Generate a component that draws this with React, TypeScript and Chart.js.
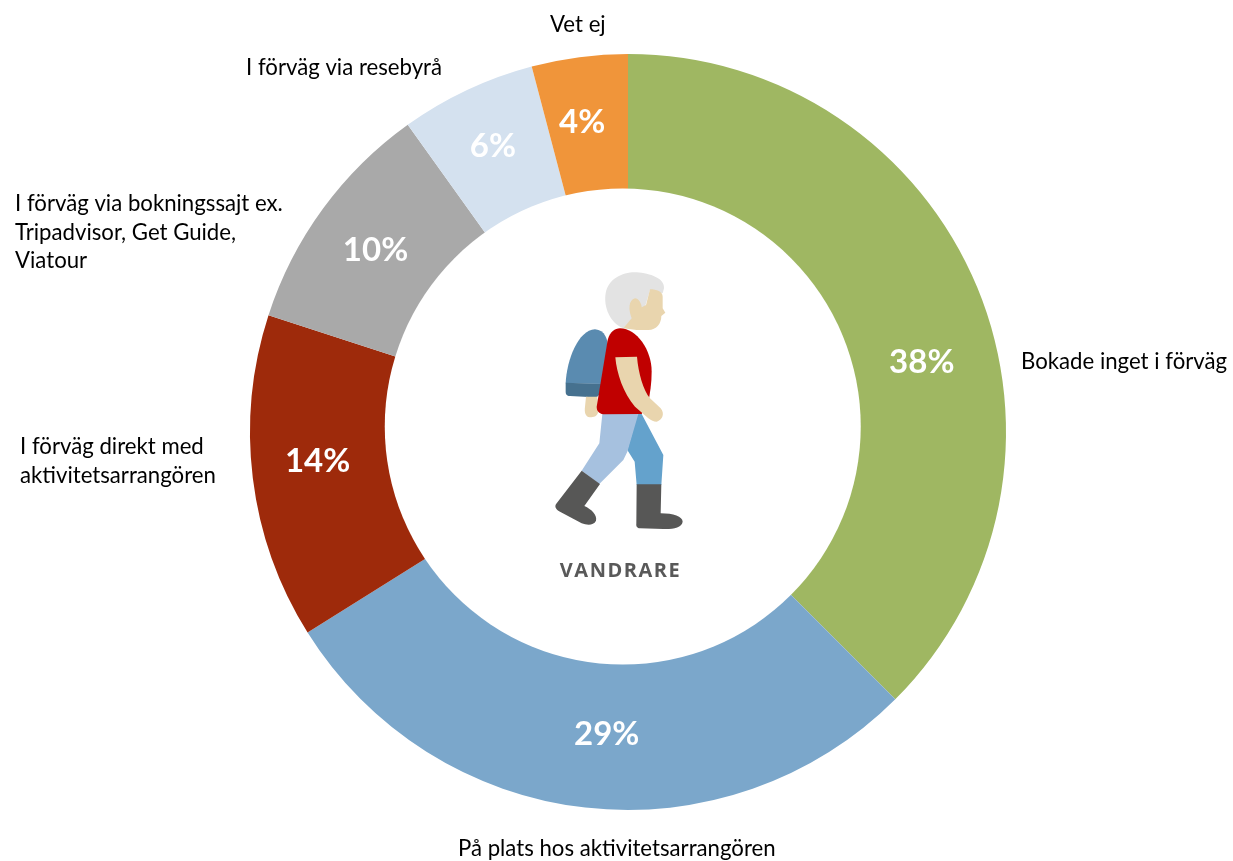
import React, { useEffect, useRef } from "react";
import { Chart, registerables } from "chart.js";

Chart.register(...registerables);

const categories = [
  "Bokade inget i förväg",
  "På plats hos aktivitetsarrangören",
  "I förväg direkt med aktivitetsarrangören",
  "I förväg via bokningssajt ex. Tripadvisor, Get Guide, Viatour",
  "I förväg via resebyrå",
  "Vet ej",
];
const shares = [37.5, 28.6, 13.9, 10.1, 5.8, 4.1];
const sliceColors = ["#9FB762", "#7BA7CB", "#9E2A0B", "#A9A9A9", "#D4E1EF", "#F0953A"];
const outsideLines = [
  ["Bokade inget i förväg"],
  ["På plats hos aktivitetsarrangören"],
  ["I förväg direkt med", "aktivitetsarrangören"],
  ["I förväg via bokningssajt ex.", "Tripadvisor, Get Guide,", "Viatour"],
  ["I förväg via resebyrå"],
  ["Vet ej"],
];
const centerTitle = "VANDRARE";

const outsideAnchors = [
  [1021, 362, 0],
  [458, 849, 0],
  [20, 447, 29],
  [15, 204, 28.5],
  [246, 68, 0],
  [550, 25, 0],
];
const valueOffsets = [
  [14.4, 45.9],
  [12.8, 2],
  [-10.3, -7.5],
  [-8.4, -3],
  [-6.3, -12],
  [-7, -9.6],
];

const LABEL_FONT = '22.2px Lato, "Open Sans", sans-serif';
const VALUE_FONT = 'bold 33px Lato, "Open Sans", sans-serif';
const TITLE_FONT = 'bold 20px "Open Sans", sans-serif';

const hikerParts: [string, string][] = [
  ["#5A8BB0", "M77 370C80 300 115 210 165 208C195 210 205 240 203 265L190 372Z"],
  ["#46718F", "M77 368L188 372L178 402C175 410 170 412 160 412L90 408C80 408 77 402 77 395Z"],
  ["#E9D5AE", "M138 410L172 410L175 450C175 470 160 472 150 472C135 470 133 455 135 440Z"],
  ["#64A2CC", "M292 462L305 462L370 585L364 675L290 675L284 605L262 570Z"],
  ["#A6C1DF", "M187 462L295 462L262 575L250 600L178 672L125 632L178 550Z"],
  ["#E3E3E3", "M250 205C210 190 190 140 197 100C205 55 250 35 290 37C330 40 375 55 372 85L368 100L330 90L315 140L300 150L275 185Z"],
  ["#E9D5AE", "M330 88C350 88 368 95 368 110L368 145L376 158L364 168C364 190 350 210 325 210L290 210L250 205L275 175C265 150 265 120 285 115C295 115 305 130 305 142L318 135Z"],
  ["#C00000", "M240 205C290 205 335 270 335 335C335 370 330 400 325 425L305 462L190 463C175 460 170 450 170 440L203 240C210 215 225 205 240 205Z"],
  ["#E9D5AE", "M226 292L291 290C295 340 310 390 330 415L362 445C375 460 368 480 350 485C340 485 335 482 325 475L285 440C250 400 230 340 226 292Z"],
  ["#575756", "M290 673L364 673L362 760C400 760 428 770 428 785C425 803 400 808 370 807L300 805C290 805 288 798 289 790Z"],
  ["#575756", "M125 632L180 672L133 738C155 748 172 765 168 782C160 798 140 795 125 790L60 755C45 748 43 738 50 730Z"],
];

const annotations = {
  id: "annotations",
  afterDraw(chart: any) {
    const ctx = chart.ctx as CanvasRenderingContext2D;
    const arcs = chart.getDatasetMeta(0).data;
    const { x: cx, y: cy } = arcs[0].getProps(["x", "y"], true);

    ctx.save();

    // The hole of the ring sits slightly up and left of the ring's own centre.
    ctx.fillStyle = "#FFFFFF";
    ctx.beginPath();
    ctx.arc(cx - 5.25, cy - 5.5, 238, 0, Math.PI * 2);
    ctx.fill();

    ctx.textBaseline = "middle";
    ctx.textAlign = "left";
    ctx.fillStyle = "#000000";
    ctx.font = LABEL_FONT;
    outsideLines.forEach((lines, i) => {
      const [x, y, step] = outsideAnchors[i];
      lines.forEach((line, j) => ctx.fillText(line, x, y + j * step));
    });

    ctx.textAlign = "center";
    ctx.fillStyle = "#FFFFFF";
    ctx.font = VALUE_FONT;
    arcs.forEach((arc: any, i: number) => {
      const p = arc.getCenterPoint();
      ctx.fillText(`${Math.round(shares[i])}%`, p.x + valueOffsets[i][0], p.y + valueOffsets[i][1]);
    });

    ctx.fillStyle = "#595959";
    ctx.font = TITLE_FONT;
    (ctx as any).letterSpacing = "1.5px";
    ctx.fillText(centerTitle, cx - 7.5, cy + 139);
    (ctx as any).letterSpacing = "0px";

    ctx.translate(cx - 88, cy - 172);
    ctx.scale(1 / 3, 1 / 3);
    hikerParts.forEach(([fill, d]) => {
      ctx.fillStyle = fill;
      ctx.fill(new Path2D(d));
    });
    ctx.restore();
  },
};

export default function App() {
  const ref = useRef<HTMLCanvasElement>(null);
  useEffect(() => {
    if (!ref.current) return;
    const chart = new Chart(ref.current, {
      type: "doughnut",
      data: {
        labels: categories,
        datasets: [{ data: shares, backgroundColor: sliceColors, borderWidth: 0 }],
      },
      options: {
        responsive: false,
        animation: false,
        cutout: "60%",
        layout: { padding: { left: 250, right: 227, top: 54, bottom: 51 } },
        plugins: { legend: { display: false }, tooltip: { enabled: false } },
      },
      plugins: [annotations],
    } as any);
    return () => chart.destroy();
  }, []);
  return (
    <canvas
      ref={ref}
      width={1233}
      height={861}
      style={{ position: "fixed", left: 0, top: 0, display: "block", background: "#fff" }}
    />
  );
}
